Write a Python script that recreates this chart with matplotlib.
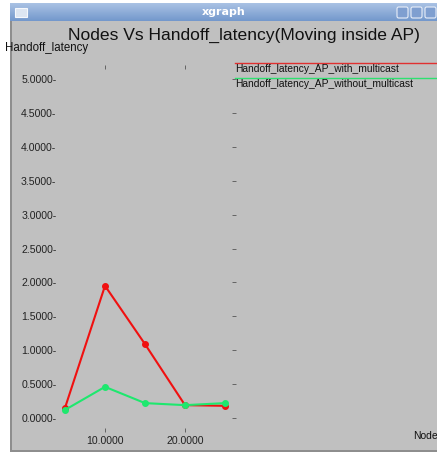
import numpy as np
import matplotlib.pyplot as plt
from matplotlib.patches import Rectangle, FancyBboxPatch

plt.rcParams['font.family'] = ['Liberation Sans', 'DejaVu Sans']

# data
nodes = [5, 10, 15, 20, 25]
with_mc = [0.15, 1.95, 1.09, 0.19, 0.18]
without_mc = [0.12, 0.46, 0.22, 0.19, 0.22]
yticks = [0, 0.5, 1, 1.5, 2, 2.5, 3, 3.5, 4, 4.5, 5]
xticks = [10, 20]

W, H = 437, 453
fig = plt.figure(figsize=(W / 100, H / 100), dpi=100, facecolor='white')

def fx(px):
    return px / W

def fy(py):
    return 1 - py / H

# window frame and grey client area (kept behind the axes)
fig.patches.append(Rectangle((fx(10), fy(452)), fx(437 - 10), (452 - 3) / H,
                             transform=fig.transFigure, facecolor='#8e8e8e',
                             edgecolor='none', zorder=-10))
fig.patches.append(Rectangle((fx(12), fy(450)), fx(437 - 12), (450 - 21) / H,
                             transform=fig.transFigure, facecolor='#c0c0c0',
                             edgecolor='none', zorder=-9))

# title bar with gradient
tb = fig.add_axes([fx(10), fy(21), fx(437 - 10), 18 / H])
grad = np.linspace(0, 1, 50).reshape(-1, 1)
cmap = plt.matplotlib.colors.LinearSegmentedColormap.from_list('tb', ['#aac2e4', '#7398cc'])
tb.imshow(grad, aspect='auto', cmap=cmap, extent=[0, 1, 0, 1], origin='upper')
tb.set_axis_off()
tb.text(0.5, 0.5, 'xgraph', color='white', fontsize=8, fontweight='bold',
        ha='center', va='center', transform=tb.transAxes, family='DejaVu Sans')
# window icon and buttons
fig.patches.append(Rectangle((fx(15), fy(17)), fx(12), 9 / H, transform=fig.transFigure,
                             facecolor='#dde6f2', edgecolor='#f5f8fc', lw=0.8, zorder=5))
for bx in [397, 411, 425]:
    fig.patches.append(FancyBboxPatch((fx(bx), fy(18)), fx(11), 11 / H,
                                      boxstyle='round,pad=0,rounding_size=0.004',
                                      transform=fig.transFigure, facecolor='#7f9fd0',
                                      edgecolor='#e8eef8', lw=0.8, zorder=5))

# plot area
ax = fig.add_axes([fx(62), fy(432), fx(232 - 62), (432 - 65) / H])
ax.set_facecolor('none')
for s in ax.spines.values():
    s.set_visible(False)
ax.set_xlim(4.625, 25.875)
ax.set_ylim(-0.206, 5.206)

ax.plot(nodes, with_mc, color='#f01010', lw=1.5, marker='o', ms=4, zorder=3)
ax.plot(nodes, without_mc, color='#1ee86e', lw=1.5, marker='o', ms=4, zorder=4)

ax.set_yticks(yticks)
ax.set_yticklabels(['%.4f-' % v for v in yticks], fontsize=7.6, color='#222222')
ax.tick_params(axis='y', left=False, right=True, length=3, width=0.6,
               color='#555555', pad=1)
ax.set_xticks(xticks)
ax.set_xticklabels(['%.4f' % v for v in xticks], fontsize=7.6, color='#222222')
ax.tick_params(axis='x', top=True, bottom=True, direction='in', length=3,
               width=0.6, color='#555555', pad=3)

fig.text(fx(244), fy(35), 'Nodes Vs Handoff_latency(Moving inside AP)', fontsize=12.6,
         ha='center', va='center', color='#111111')
fig.text(fx(5), fy(48), 'Handoff_latency', fontsize=8.3, ha='left', va='center',
         color='#111111')
fig.text(fx(413), fy(436), 'Nodes', fontsize=7.5, ha='left', va='center', color='#111111')

# legend drawn the xgraph way
leg_names = ['Handoff_latency_AP_with_multicast', 'Handoff_latency_AP_without_multicast']
leg_cols = ['#e03030', '#2ee070']
for i, (name, col) in enumerate(zip(leg_names, leg_cols)):
    ly = 63 + 15 * i
    fig.add_artist(plt.Line2D([fx(235), fx(437)], [fy(ly), fy(ly)], color=col, lw=1.0,
                              transform=fig.transFigure))
    fig.text(fx(235), fy(ly + 6), name, fontsize=7.4, ha='left', va='center',
             color='#111111')

fig.savefig('out.png', dpi=100, facecolor=fig.get_facecolor())
